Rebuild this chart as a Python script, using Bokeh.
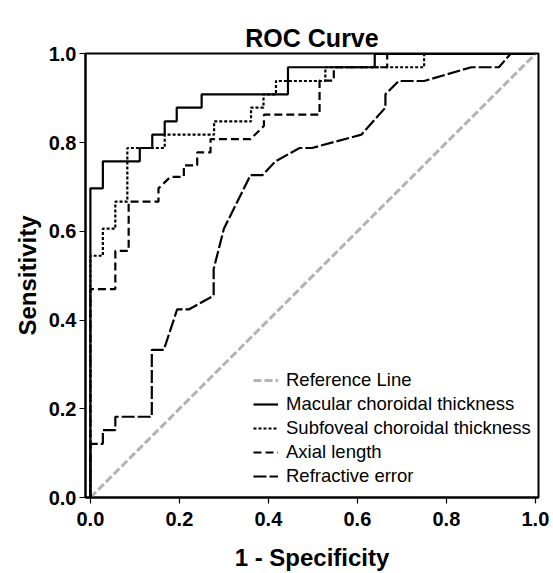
from bokeh.plotting import figure
from bokeh.models import Legend, LegendItem, FixedTicker, Range1d, PrintfTickFormatter, Title
from bokeh.embed import file_html
from bokeh.resources import INLINE

tick_values = [0.0, 0.2, 0.4, 0.6, 0.8, 1.0]

ref_fpr = [0.0, 1.0]
ref_tpr = [0.0, 1.0]

macular_fpr = [0.0, 0.0, 0.028, 0.028, 0.111, 0.111, 0.139, 0.139, 0.167, 0.167,
               0.194, 0.194, 0.250, 0.250, 0.444, 0.444, 0.639, 0.639, 1.0]
macular_tpr = [0.0, 0.697, 0.697, 0.758, 0.758, 0.788, 0.788, 0.818, 0.818, 0.848,
               0.848, 0.879, 0.879, 0.909, 0.909, 0.970, 0.970, 1.0, 1.0]

subfoveal_fpr = [0.0, 0.0, 0.028, 0.028, 0.056, 0.056, 0.083, 0.083, 0.167, 0.167,
                 0.278, 0.278, 0.361, 0.361, 0.389, 0.389, 0.417, 0.417, 0.528, 0.528,
                 0.750, 0.750, 1.0]
subfoveal_tpr = [0.0, 0.545, 0.545, 0.606, 0.606, 0.667, 0.667, 0.788, 0.788, 0.818,
                 0.818, 0.848, 0.848, 0.879, 0.879, 0.909, 0.909, 0.939, 0.939, 0.970,
                 0.970, 1.0, 1.0]

axial_fpr = [0.0, 0.0, 0.056, 0.056, 0.086, 0.086, 0.153, 0.153, 0.180, 0.210,
             0.210, 0.240, 0.240, 0.270, 0.270, 0.360, 0.390, 0.390, 0.515, 0.515,
             0.547, 0.547, 0.667, 0.667, 1.0]
axial_tpr = [0.0, 0.470, 0.470, 0.556, 0.556, 0.667, 0.667, 0.697, 0.723, 0.723,
             0.749, 0.749, 0.778, 0.778, 0.808, 0.808, 0.838, 0.863, 0.863, 0.940,
             0.940, 0.970, 0.970, 1.0, 1.0]

refractive_fpr = [0.0, 0.0, 0.028, 0.028, 0.056, 0.056, 0.138, 0.138, 0.165, 0.195,
                  0.221, 0.277, 0.277, 0.300, 0.360, 0.387, 0.416, 0.470, 0.498, 0.609,
                  0.663, 0.663, 0.693, 0.750, 0.856, 0.918, 0.944, 1.0]
refractive_tpr = [0.0, 0.121, 0.121, 0.152, 0.152, 0.182, 0.182, 0.333, 0.333, 0.424,
                  0.424, 0.455, 0.515, 0.606, 0.727, 0.727, 0.758, 0.788, 0.788, 0.818,
                  0.879, 0.909, 0.939, 0.939, 0.970, 0.970, 1.0, 1.0]

FONT = "Liberation Sans"

p = figure(width=553, height=573, output_backend="svg", toolbar_location=None,
           x_range=Range1d(-0.011, 1.007), y_range=Range1d(0.0, 1.001),
           min_border_left=85, min_border_right=15, min_border_top=53, min_border_bottom=76,
           title=None)

spacer = Title(text=".", text_font_size="2px", text_alpha=0, standoff=10)
main_title = Title(text="ROC Curve", align="center", vertical_align="top",
                   text_font=FONT, text_font_size="25px", text_font_style="bold",
                   text_color="black", standoff=0)
p.add_layout(spacer, "above")
p.add_layout(main_title, "above")

p.grid.visible = False
p.outline_line_color = "black"
p.outline_line_width = 2
p.background_fill_color = "white"
p.border_fill_color = "white"

for ax in (p.xaxis, p.yaxis):
    ax.ticker = FixedTicker(ticks=tick_values)
    ax.formatter = PrintfTickFormatter(format="%.1f")
    ax.major_label_text_font = FONT
    ax.major_label_text_font_size = "20px"
    ax.major_label_text_font_style = "bold"
    ax.major_label_text_color = "black"
    ax.axis_label_text_font = FONT
    ax.axis_label_text_font_size = "24px"
    ax.axis_label_text_font_style = "bold"
    ax.axis_label_text_color = "black"
    ax.axis_line_color = "black"
    ax.axis_line_width = 2
    ax.major_tick_in = 0
    ax.major_tick_out = 6
    ax.major_tick_line_color = "black"
    ax.major_tick_line_width = 1.2
    ax.minor_tick_line_color = None

p.xaxis.axis_label = "1 - Specificity"
p.yaxis.axis_label = "Sensitivity"
p.xaxis.major_label_standoff = 8
p.yaxis.major_label_standoff = 3
p.xaxis.axis_label_standoff = 15
p.yaxis.axis_label_standoff = 5

r_ref = p.line(ref_fpr, ref_tpr, line_color="#b3b3b3", line_width=3, line_dash="8 3")
r_refr = p.line(refractive_fpr, refractive_tpr, line_color="black", line_width=2.2, line_dash="13 3")
r_ax = p.line(axial_fpr, axial_tpr, line_color="black", line_width=2.2, line_dash="8 4")
r_sub = p.line(subfoveal_fpr, subfoveal_tpr, line_color="black", line_width=2.2, line_dash="3 2")
r_mac = p.line(macular_fpr, macular_tpr, line_color="black", line_width=2.2)

legend = Legend(items=[
    LegendItem(label="Reference Line", renderers=[r_ref]),
    LegendItem(label="Macular choroidal thickness", renderers=[r_mac]),
    LegendItem(label="Subfoveal choroidal thickness", renderers=[r_sub]),
    LegendItem(label="Axial length", renderers=[r_ax]),
    LegendItem(label="Refractive error", renderers=[r_refr]),
], location=(163, 5))
legend.padding = 5
legend.margin = 0
legend.spacing = 2
legend.label_height = 20
legend.glyph_height = 20
legend.glyph_width = 25
legend.label_standoff = 8
legend.label_text_font = FONT
legend.label_text_font_size = "18.5px"
legend.label_text_color = "black"
legend.border_line_alpha = 0
legend.background_fill_alpha = 0
p.add_layout(legend, "center")

open("out.html", "w").write(file_html(p, INLINE))
